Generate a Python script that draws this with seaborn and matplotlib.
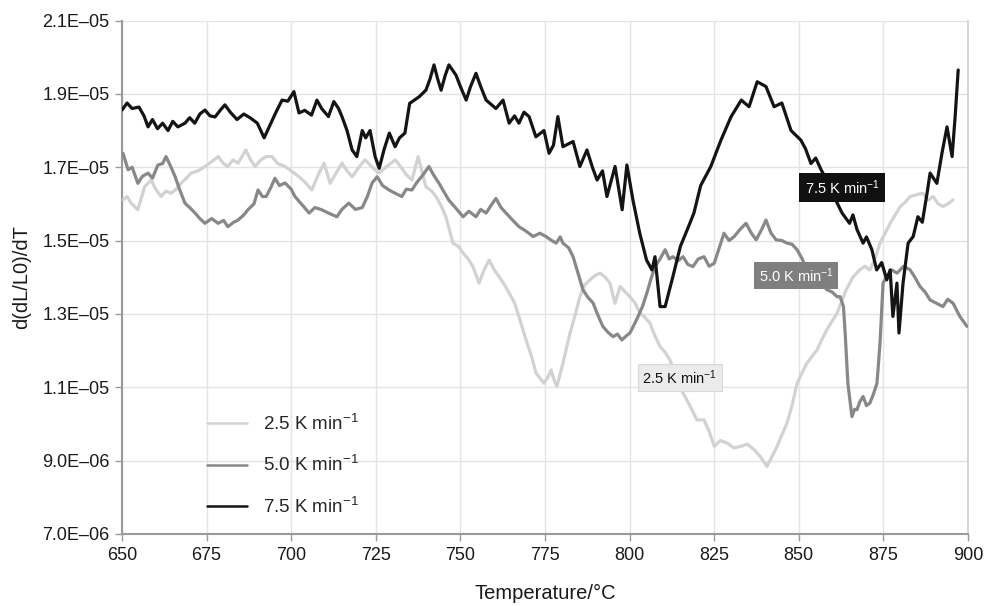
import numpy as np
import pandas as pd
import matplotlib
matplotlib.use("Agg")
import matplotlib.pyplot as plt
import seaborn as sns
from matplotlib.ticker import FuncFormatter

# ---------------- data (values in units of 1e-6) ----------------
t75 = [650, 651.5, 653, 655, 656.5, 657.7, 659, 660.5, 662, 663.6, 665, 666.5, 668.6, 670, 671.5, 673,
       674.5, 676, 677.5, 679, 680.4, 682, 684, 686, 688, 690, 692, 694, 695.5, 697.3, 699, 700.8,
       702.3, 704, 706, 707.6, 709, 711, 712.6, 714, 715, 716.5, 718, 719.4, 721, 722, 723.3, 724.8,
       726, 727.5, 729, 730.7, 732, 733.6, 735, 737.8, 739.8, 741, 742.2, 743.3, 744.3, 745.5, 746.6,
       748.7, 750, 751.7, 753, 754.6, 756, 757.6, 760.5, 762.6, 764.4, 766, 767.3, 768.8, 770.3,
       772.3, 774.7, 776.2, 777.5, 778.8, 780.3, 783.3, 785.3, 787.4, 789, 790.4, 792, 793.3, 795.7,
       797.8, 799.2, 801, 803, 805, 806.6, 807.5, 809, 810.5, 812.8, 815, 817.8, 819, 821, 824, 827,
       830, 833, 835.3, 837.7, 840.3, 842.7, 845, 847.7, 850.6, 852, 853.6, 855, 856.6, 858.5, 860.4,
       862.8, 865, 866, 867.2, 869, 870, 871.6, 873, 874.5, 876, 877, 877.8, 879, 879.6, 880.8,
       882.3, 883.8, 885.2, 886.5, 887.9, 888.8, 890.8, 892.3, 893.8, 895.3, 896.2, 897.1]
v75 = [18.56, 18.75, 18.6, 18.64, 18.4, 18.1, 18.3, 18.05, 18.2, 18.0, 18.25, 18.1, 18.2, 18.35, 18.2, 18.45,
       18.56, 18.4, 18.37, 18.55, 18.7, 18.5, 18.3, 18.45, 18.34, 18.2, 17.8, 18.2, 18.5, 18.83, 18.8, 19.06,
       18.48, 18.55, 18.42, 18.83, 18.6, 18.38, 18.79, 18.6, 18.38, 18.0, 17.47, 17.29, 18.0, 17.8, 18.0, 17.29,
       16.97, 17.5, 17.93, 17.56, 17.8, 17.93, 18.74, 18.92, 19.1, 19.4, 19.79, 19.4, 19.1, 19.5, 19.79,
       19.51, 19.2, 18.83, 19.2, 19.56, 19.2, 18.83, 18.6, 18.83, 18.2, 18.4, 18.2, 18.5, 18.38,
       17.83, 18.0, 17.38, 17.6, 18.38, 17.56, 17.7, 17.02, 17.47, 17.0, 16.65, 16.9, 16.2, 17.02,
       15.84, 17.06, 16.1, 15.2, 14.47, 14.2, 14.56, 13.2, 13.2, 14.02, 14.84, 15.47, 15.75, 16.5, 17.02, 17.74,
       18.38, 18.83, 18.65, 19.33, 19.2, 18.65, 18.75, 18.0, 17.74, 17.5, 17.1, 17.25, 16.93, 16.6, 16.2,
       15.75, 15.47, 15.7, 15.3, 14.93, 15.1, 14.75, 14.2, 14.4, 13.93, 14.2, 12.93, 13.84, 12.48, 13.84,
       14.93, 15.11, 15.65, 15.5, 16.29, 16.84, 16.56, 17.38, 18.1, 17.29, 18.38, 19.65]

t50 = [650.3, 651.8, 653, 654.7, 656, 657.7, 659, 660.6, 662, 663, 664.5, 665.7, 667, 668.6, 670, 671.6,
       673, 674.5, 676.5, 678.4, 680, 681.3, 683, 684.3, 686, 687.2, 689, 690.2, 691.5, 692.6, 694, 695.2,
       696.5, 698.2, 700, 701.1, 703, 705.3, 707, 709, 711, 713.5, 715, 717, 719, 721, 722.5, 723.9,
       725.4, 727, 728.9, 730.5, 732.7, 734, 735.7, 737, 739, 740.7, 742, 743.7, 745, 746.6, 748.5,
       750.8, 752.5, 754.6, 756, 757.6, 759, 760.5, 762, 763.5, 765.5, 767.3, 769.5, 771.5, 773.5,
       775.3, 777, 778.3, 779.5, 780.3, 782, 783.3, 784.8, 786.2, 787.7, 789.2, 790.7, 792.1, 793.6,
       795.1, 796.4, 797.7, 799, 800.1, 801.3, 802.5, 803.8, 805.1, 806.3, 807.5, 809, 810.5, 811.7,
       812.8, 814.3, 815.8, 817.2, 818.7, 820.3, 822, 823.5, 825, 826.5, 827.9, 829.4, 830.9, 832.6,
       834.4, 836, 837.4, 839, 840.3, 841.8, 843.3, 845, 846.5, 848, 849.5, 851, 852.4, 854, 855.4,
       857, 858.3, 859.8, 861.3, 862.2, 863.2, 863.7, 864.5, 865.7, 866.5, 867.2, 868, 869, 870, 871,
       872, 873.1, 874, 874.9, 876, 877.5, 879, 881, 882.9, 884.3, 885.8, 887.3, 888.8, 890.5, 892.6,
       894, 895.6, 897.6, 899.7]
v50 = [17.38, 16.93, 17.0, 16.56, 16.75, 16.84, 16.7, 17.06, 17.1, 17.29, 17.0, 16.74, 16.4, 16.02, 15.9, 15.75,
       15.6, 15.47, 15.6, 15.47, 15.55, 15.38, 15.5, 15.56, 15.7, 15.84, 16.0, 16.38, 16.2, 16.2, 16.45, 16.7,
       16.5, 16.57, 16.4, 16.2, 16.0, 15.75, 15.9, 15.84, 15.75, 15.65, 15.85, 16.02, 15.85, 15.9, 16.2, 16.57,
       16.74, 16.5, 16.38, 16.3, 16.2, 16.4, 16.38, 16.57, 16.8, 17.02, 16.8, 16.56, 16.35, 16.1, 15.9,
       15.65, 15.8, 15.65, 15.85, 15.75, 15.95, 16.15, 15.9, 15.75, 15.55, 15.38, 15.25, 15.11, 15.2,
       15.11, 15.0, 14.93, 15.1, 14.93, 14.8, 14.56, 14.1, 13.66, 13.45, 13.3, 12.95, 12.66, 12.5,
       12.38, 12.45, 12.29, 12.4, 12.48, 12.7, 12.93, 13.2, 13.57, 13.95, 14.29, 14.5, 14.75, 14.5,
       14.56, 14.45, 14.56, 14.35, 14.29, 14.5, 14.56, 14.3, 14.38, 14.8, 15.2, 15.0, 15.11, 15.3,
       15.47, 15.2, 15.02, 15.3, 15.56, 15.2, 15.02, 15.0, 14.93, 14.9, 14.75, 14.5, 14.2, 14.05, 13.93,
       13.8, 13.66, 13.6, 13.47, 13.47, 13.2, 12.48, 11.11, 10.2, 10.4, 10.39, 10.6, 10.75, 10.5, 10.57,
       10.8, 11.11, 12.2, 13.84, 14.02, 14.2, 14.11, 14.3, 14.2, 14.0, 13.75, 13.6, 13.38, 13.3, 13.2,
       13.4, 13.29, 12.93, 12.66]

t25 = [650.3, 651.5, 652.7, 654.7, 656.7, 658.6, 660, 661.5, 663, 664.5, 666, 667.4, 669, 670.4, 672.5,
       674.5, 676.5, 678.4, 680, 681.3, 682.8, 684.3, 685.5, 686.6, 688, 689.3, 691, 692.6, 694.3, 696,
       698.2, 700, 702.3, 704, 706.1, 708, 709.7, 711.5, 713, 715, 716.5, 718, 720, 721.8, 724, 725.9,
       728, 730.7, 732.5, 734, 735.7, 737.5, 739.8, 741.5, 742.8, 744.3, 745.7, 747.8, 749.3, 750.8,
       752.3, 753.7, 755.5, 757, 758.5, 760, 761.4, 763, 764.4, 766, 767.3, 769.4, 771, 772.3, 774.7,
       776, 776.8, 777.7, 778.5, 780.3, 782.4, 784, 785.3, 786.8, 788.3, 789.8, 791.3, 792.8, 794.2,
       795.7, 797.2, 798.7, 800.1, 801.6, 803.1, 804.6, 806, 807.5, 809, 810.5, 811.9, 813.8, 815.8,
       817.8, 819.9, 822, 823.5, 825, 826.8, 828.8, 830.8, 832.9, 834.8, 836.8, 838.7, 840.6, 842,
       843.6, 845, 846.5, 848, 849.5, 851, 852.4, 854, 855.4, 856.8, 858.3, 859.8, 861.3, 862.5, 864,
       866, 868, 869.5, 871, 872.5, 874, 875.5, 877, 878.5, 880, 881.5, 882.9, 884.8, 886.7, 888.2,
       889.7, 891.2, 892.6, 894, 895.6]
v25 = [16.11, 16.2, 16.02, 15.84, 16.47, 16.65, 16.4, 16.2, 16.35, 16.29, 16.4, 16.56, 16.7, 16.84, 16.9,
       17.02, 17.15, 17.29, 17.1, 17.02, 17.2, 17.11, 17.3, 17.47, 17.2, 17.02, 17.2, 17.29, 17.29, 17.1,
       17.02, 16.9, 16.74, 16.6, 16.38, 16.8, 17.11, 16.56, 16.8, 17.11, 16.9, 16.74, 17.0, 17.2, 17.0, 16.84,
       17.0, 17.2, 17.0, 16.8, 16.65, 17.29, 16.47, 16.35, 16.2, 15.95, 15.65, 14.93, 14.85, 14.66,
       14.5, 14.29, 13.84, 14.2, 14.47, 14.2, 14.02, 13.8, 13.57, 13.3, 12.93, 12.29, 11.85, 11.39, 11.11,
       11.3, 11.47, 11.2, 11.02, 11.66, 12.48, 13.0, 13.47, 13.8, 13.93, 14.05, 14.11, 14.0, 13.84,
       13.29, 13.75, 13.6, 13.47, 13.3, 13.02, 12.9, 12.75, 12.4, 12.11, 11.95, 11.75, 11.3, 10.84,
       10.5, 10.11, 10.11, 9.8, 9.39, 9.55, 9.48, 9.35, 9.39, 9.45, 9.3, 9.1, 8.84, 9.1,
       9.39, 9.7, 10.02, 10.5, 11.11, 11.4, 11.66, 11.85, 12.02, 12.3, 12.57, 12.8, 13.02, 13.3, 13.66,
       14.0, 14.2, 14.3, 14.2, 14.5, 14.93, 15.2, 15.47, 15.7, 15.93, 16.05, 16.2, 16.25, 16.29, 16.1,
       16.2, 16.0, 15.93, 16.0, 16.11]

series_names = ["2.5 K min$^{-1}$", "5.0 K min$^{-1}$", "7.5 K min$^{-1}$"]
series_colors = ["#d2d2d2", "#888888", "#141414"]
y_ticks = [7e-6, 9e-6, 1.1e-5, 1.3e-5, 1.5e-5, 1.7e-5, 1.9e-5, 2.1e-5]
x_ticks = [650, 675, 700, 725, 750, 775, 800, 825, 850, 875, 900]

frames = []
for name, t, v in zip(series_names, [t25, t50, t75], [v25, v50, v75]):
    frames.append(pd.DataFrame({"T": t, "val": np.array(v) * 1e-6, "series": name}))
df = pd.concat(frames, ignore_index=True)

# ---------------- style ----------------
sns.set_style("white")
plt.rcParams["font.family"] = ["Liberation Sans", "DejaVu Sans"]
plt.rcParams["mathtext.fontset"] = "custom"
plt.rcParams["mathtext.rm"] = "Liberation Sans"
plt.rcParams["mathtext.it"] = "Liberation Sans"

fig = plt.figure(figsize=(9.87, 6.06), dpi=100)
ax = fig.add_axes([122 / 987, 1 - 534 / 606, 846 / 987, 513.5 / 606])

sns.lineplot(data=df, x="T", y="val", hue="series", hue_order=series_names,
             palette=dict(zip(series_names, series_colors)), sort=False, estimator=None,
             linewidth=2.3, ax=ax, zorder=3)

ax.set_xlim(650, 900)
ax.set_ylim(7e-6, 2.1e-5)
ax.set_xticks(x_ticks)
ax.set_yticks(y_ticks)
ax.yaxis.set_major_formatter(FuncFormatter(lambda v, p: f"{v:.1E}".replace("-", "\u2013")))
ax.grid(True, color="#e3e3e3", linewidth=1.0, zorder=0)
ax.set_axisbelow(True)
ax.spines["top"].set_visible(False)
ax.spines["right"].set_color("#cfcfcf")
ax.spines["right"].set_linewidth(1.2)
ax.spines["left"].set_color("#9a9a9a")
ax.spines["left"].set_linewidth(1.5)
ax.spines["bottom"].set_color("#9a9a9a")
ax.spines["bottom"].set_linewidth(1.5)
ax.tick_params(axis="both", which="major", direction="out", length=5, width=1,
               color="#9a9a9a", labelsize=13, labelcolor="#1a1a1a", pad=4, left=True, bottom=True)
ax.set_xlabel("Temperature/°C", fontsize=14.5, color="#1a1a1a", labelpad=15)
ax.set_ylabel("d(dL/L0)/dT", fontsize=14.5, color="#1a1a1a", labelpad=8)

leg = ax.legend(loc="upper left", bbox_to_anchor=(0.1005, 0.234), frameon=False, fontsize=13.5,
                handlelength=2.15, labelspacing=1.13, handletextpad=0.85, borderpad=0, borderaxespad=0)
for line in leg.get_lines():
    line.set_linewidth(1.8)

# labels on the curves
ax.text(862.8, 16.44e-6, "7.5 K min$^{-1}$", fontsize=10.5, color="white", ha="center", va="center",
        bbox=dict(boxstyle="square,pad=0.35", fc="#111111", ec="none"), zorder=5)
ax.text(849.2, 14.04e-6, "5.0 K min$^{-1}$", fontsize=10.5, color="white", ha="center", va="center",
        bbox=dict(boxstyle="square,pad=0.3", fc="#7f7f7f", ec="none"), zorder=5)
ax.text(814.9, 11.26e-6, "2.5 K min$^{-1}$", fontsize=10.5, color="#111111", ha="center", va="center",
        bbox=dict(boxstyle="square,pad=0.3", fc="#ebebeb", ec="#d8d8d8", lw=0.8), zorder=5)

fig.savefig("out.png", dpi=100)
